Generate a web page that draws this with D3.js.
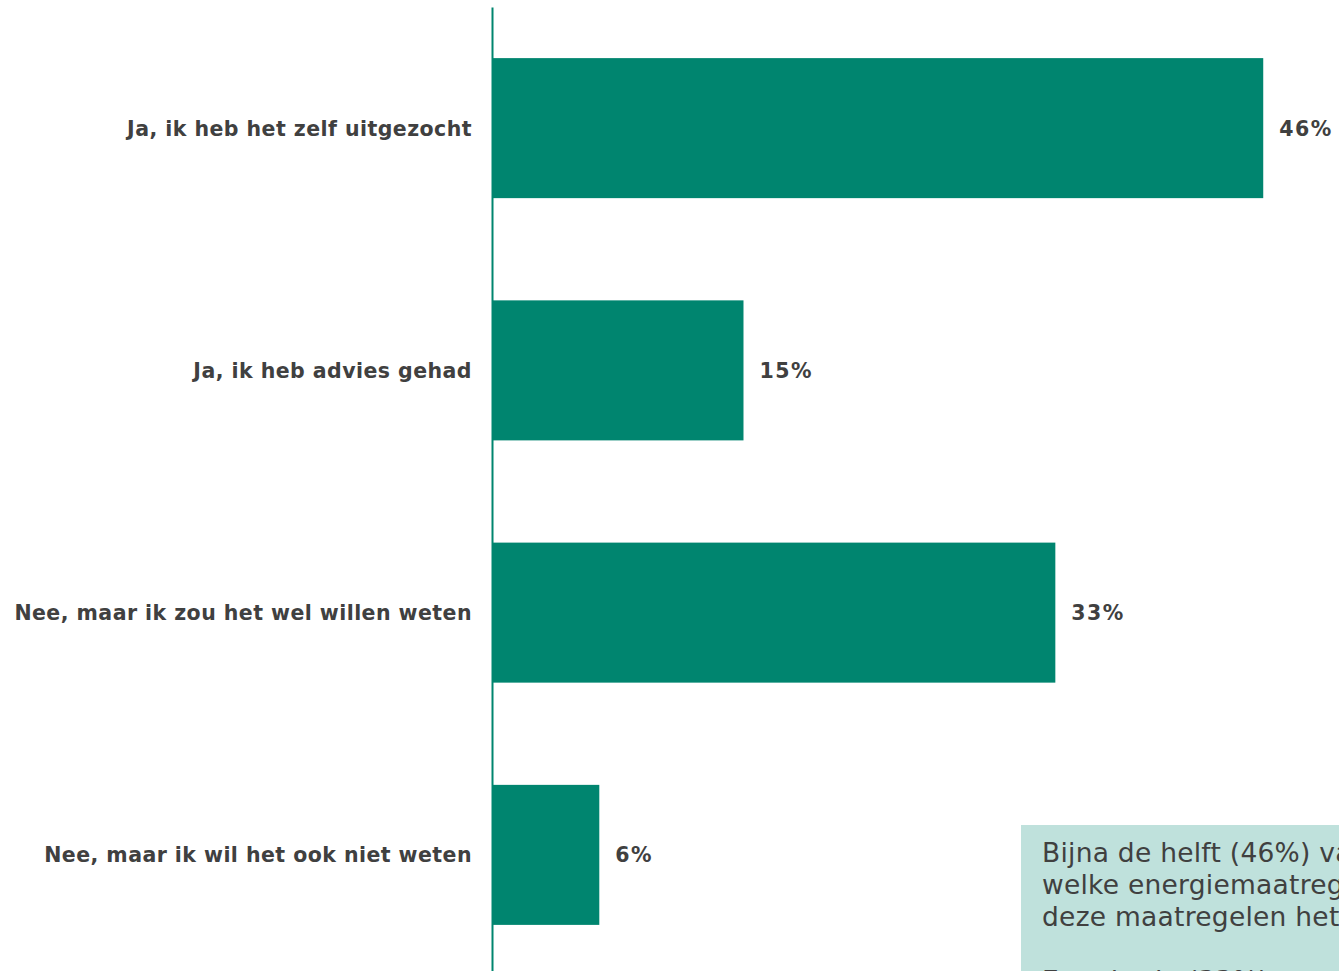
<!DOCTYPE html>
<html>
<head>
<meta charset="utf-8">
<script src="https://cdn.jsdelivr.net/npm/d3@7"></script>
<style>
  html, body { margin: 0; padding: 0; background: #ffffff; overflow: hidden; }
  svg { display: block; }
</style>
</head>
<body>
<div id="chart"></div>
<script>
// ---- data ----
const categories = [
  "Ja, ik heb het zelf uitgezocht",
  "Ja, ik heb advies gehad",
  "Nee, maar ik zou het wel willen weten",
  "Nee, maar ik wil het ook niet weten"
];
const values = [46, 15, 33.6, 6.4];
const valueLabels = ["46%", "15%", "33%", "6%"];
const noteLines = [
  "Bijna de helft (46%) van",
  "welke energiemaatregelen",
  "deze maatregelen het",
  "",
  "Een derde (33%)"
];

// ---- layout ----
const W = 1339, H = 971;
const barColor = "#00856f";
const textColor = "#404040";
const boxColor = "#bfe1dc";

const svg = d3.select("#chart").append("svg")
  .attr("width", W).attr("height", H)
  .attr("viewBox", `0 0 ${W} ${H}`);

const x = d3.scaleLinear().domain([0, 50]).range([492, 1330.3]);
const y = d3.scaleBand().domain(categories)
  .range([7, 976]).paddingInner(0.422).paddingOuter(0.211);

const data = categories.map((c, i) => ({ cat: c, value: values[i], label: valueLabels[i] }));

// bars
svg.append("g").selectAll("rect").data(data).join("rect")
  .attr("x", x(0))
  .attr("y", d => y(d.cat))
  .attr("width", d => x(d.value) - x(0))
  .attr("height", y.bandwidth())
  .attr("fill", barColor);

// value labels
svg.append("g").selectAll("text").data(data).join("text")
  .attr("x", d => x(d.value) + 16)
  .attr("y", d => y(d.cat) + y.bandwidth() / 2 + 7.5)
  .attr("font-family", "'DejaVu Sans', Verdana, sans-serif")
  .attr("font-weight", "bold")
  .attr("font-size", 20.5)
  .attr("letter-spacing", "1.5px")
  .attr("fill", textColor)
  .text(d => d.label);

// category axis
const axis = svg.append("g")
  .attr("transform", `translate(${x(0)},0)`)
  .call(d3.axisLeft(y).tickSize(0).tickSizeOuter(0).tickPadding(20));
axis.select(".domain").attr("stroke", barColor).attr("stroke-width", 2);
axis.selectAll(".tick text")
  .attr("font-family", "'DejaVu Sans', Verdana, sans-serif")
  .attr("font-weight", "bold")
  .attr("font-size", 20.5)
  .attr("letter-spacing", "0.45px")
  .attr("fill", textColor)
  .attr("dy", "0.36em");

// annotation box
const note = svg.append("g");
note.append("rect")
  .attr("x", 1021).attr("y", 825)
  .attr("width", W - 1021).attr("height", H - 825)
  .attr("fill", boxColor);
note.selectAll("text").data(noteLines).join("text")
  .attr("x", 1042)
  .attr("y", (d, i) => 862 + i * 32)
  .attr("font-family", "'DejaVu Sans', Verdana, sans-serif")
  .attr("font-size", 26.5)
  .attr("letter-spacing", "0.25px")
  .attr("fill", textColor)
  .text(d => d);
</script>
</body>
</html>
